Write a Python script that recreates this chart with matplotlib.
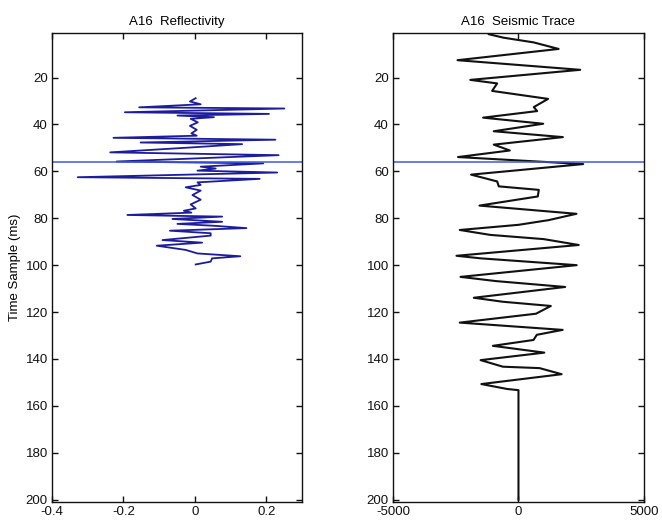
import matplotlib
matplotlib.use("Agg")
import matplotlib.pyplot as plt

plt.rcParams['font.family'] = ['Liberation Sans', 'DejaVu Sans']

# Reflectivity series (time sample ms, reflectivity)
refl_t = [28.8, 30.2, 31.4, 32.7, 33.2, 34.8, 35.5, 36.2, 36.9, 37.6, 39.1, 40.6,
          42.3, 43.8, 44.8, 45.7, 46.5, 47.7, 48.4, 49.9, 51.9, 53.1, 55.8, 56.6,
          58.0, 58.8, 59.7, 60.5, 62.5, 63.2, 64.7, 65.8, 66.8, 68.2, 70.1, 72.1,
          74.1, 75.8, 76.8, 77.6, 78.6, 79.3, 80.3, 81.5, 82.4, 83.2, 84.2, 85.3,
          86.4, 87.4, 89.3, 90.4, 91.7, 93.5, 95.0, 96.2, 97.1, 98.5, 99.7]
refl_v = [0.002, -0.014, 0.016, -0.156, 0.250, -0.196, 0.207, -0.049, 0.053, -0.012,
          0.008, -0.014, 0.005, -0.010, 0.005, -0.228, 0.225, -0.152, 0.132, -0.021,
          -0.237, 0.234, -0.219, 0.191, 0.016, 0.058, 0.007, 0.230, -0.328, 0.181,
          0.007, 0.016, -0.026, 0.016, -0.007, 0.016, -0.012, 0.002, -0.031, -0.010,
          -0.189, 0.076, -0.063, 0.076, -0.049, 0.053, 0.144, -0.070, 0.044, 0.044,
          -0.091, 0.020, -0.107, -0.026, 0.007, 0.127, 0.048, 0.044, 0.002]

# Seismic trace (time sample ms, amplitude)
trace_t = [0, 1.5, 3, 5, 7.8, 12.6, 16.7, 21, 22.5, 25.7, 29.1, 32.6, 34.3, 37.1,
           39.7, 42.9, 45.4, 48.6, 51.1, 53.9, 56.9, 61.4, 64.3, 66.4, 67.9, 70.7,
           74.6, 78.1, 80.8, 82.8, 85, 87.1, 88.9, 91.4, 96, 97.1, 100, 105, 106.8,
           109.3, 113.9, 115.6, 117.4, 120.7, 124.5, 127.6, 129.7, 131.9, 134.4,
           137.3, 140.5, 143.3, 143.9, 146.5, 150.7, 152.8, 153.3, 200]
trace_v = [-1200, -1190, -600, 600, 1600, -2430, 2460, -1920, -850, -1050, 1180, 610,
           745, -1410, 985, -985, 1770, -985, -345, -2410, 2580, -1890, -850, -785,
           810, 770, -1555, 2310, 1200, 0, -2340, -1120, 1010, 2400, -2470, -1500,
           2320, -2310, -890, 1860, -1780, -625, 1290, 700, -2340, 1760, 730, 600,
           -1020, 1030, -1510, -620, 840, 1720, -1480, -450, 0, 0]

marker_t = 56

yticks = [20, 40, 60, 80, 100, 120, 140, 160, 180, 200]
refl_xticks = [-0.4, -0.2, 0, 0.2]
refl_xticklabels = ['-0.4', '-0.2', '0', '0.2']
trace_xticks = [-5000, 0, 5000]
trace_xticklabels = ['-5000', '0', '5000']

fig = plt.figure(figsize=(6.62, 5.27), dpi=100)
ax1 = fig.add_axes([0.0785, 0.0474, 0.378, 0.890])
ax2 = fig.add_axes([0.5937, 0.0474, 0.379, 0.890])

ax1.plot(refl_v, refl_t, color='#1c1c9c', lw=1.3)
ax1.axhline(marker_t, color='#3a5ae0', lw=1.1)
ax1.set_xlim(-0.4, 0.3)
ax1.set_xticks(refl_xticks)
ax1.set_xticklabels(refl_xticklabels)
ax1.set_title('A16  Reflectivity', fontsize=9.5, pad=6)
ax1.set_ylabel('Time Sample (ms)', fontsize=9.5, labelpad=3)

ax2.plot(trace_v, trace_t, color='#111111', lw=1.5)
ax2.axhline(marker_t, color='#3a5ae0', lw=1.1)
ax2.set_xlim(-5000, 5000)
ax2.set_xticks(trace_xticks)
ax2.set_xticklabels(trace_xticklabels)
ax2.set_title('A16  Seismic Trace', fontsize=9.5, pad=6)

for ax in (ax1, ax2):
    ax.set_ylim(201, 1)
    ax.set_yticks(yticks)
    ax.tick_params(direction='in', length=4, width=1, top=True, right=True,
                   labelsize=9.5, pad=3, colors='#111111')
    for s in ax.spines.values():
        s.set_linewidth(1.0)
        s.set_color('#111111')

fig.savefig('out.png', dpi=100)
